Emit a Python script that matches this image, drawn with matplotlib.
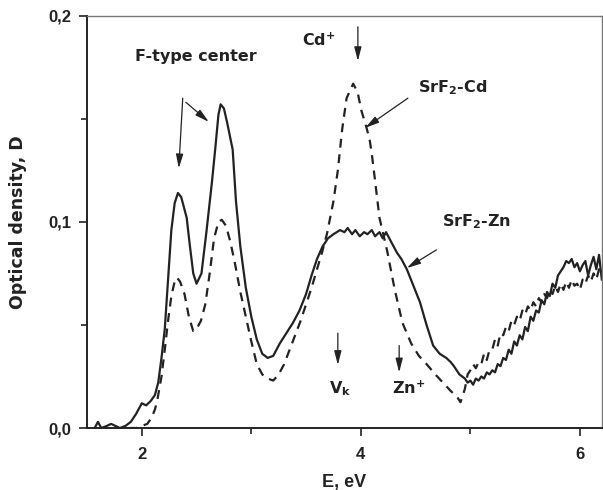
import matplotlib
matplotlib.use("Agg")
import matplotlib.pyplot as plt
from matplotlib.ticker import MultipleLocator, FuncFormatter

# SrF2-Zn (solid)
e_zn = [1.57, 1.60, 1.63, 1.68, 1.72, 1.76, 1.80, 1.85, 1.90, 1.95, 2.00, 2.04, 2.08,
        2.12, 2.15, 2.18, 2.21, 2.24, 2.27, 2.30, 2.33, 2.36, 2.41, 2.44, 2.47, 2.50,
        2.545, 2.59, 2.64, 2.67, 2.70, 2.72, 2.75, 2.78, 2.83, 2.86, 2.90, 2.95, 3.00,
        3.05, 3.10, 3.15, 3.20, 3.26, 3.32, 3.38, 3.44, 3.50, 3.55, 3.60, 3.65, 3.70,
        3.75, 3.81, 3.85, 3.88, 3.92, 3.95, 3.99, 4.03, 4.06, 4.10, 4.13, 4.17, 4.20,
        4.23, 4.27, 4.30, 4.33, 4.37, 4.42, 4.48, 4.54, 4.60, 4.66, 4.72, 4.78, 4.82,
        4.85, 4.875, 4.90, 4.925, 4.95, 4.975, 5.00, 5.025, 5.05, 5.075, 5.10, 5.125,
        5.15, 5.175, 5.20, 5.225, 5.25, 5.275, 5.30, 5.325, 5.35, 5.375, 5.40, 5.425,
        5.45, 5.475, 5.50, 5.525, 5.55, 5.575, 5.60, 5.625, 5.65, 5.675, 5.70, 5.725,
        5.75, 5.775, 5.80, 5.825, 5.85, 5.875, 5.90, 5.925, 5.95, 5.975, 6.00, 6.025,
        6.05, 6.075, 6.10, 6.125, 6.15, 6.175, 6.20]
d_zn = [0.000, 0.003, 0.000, 0.001, 0.002, 0.001, 0.000, 0.001, 0.003, 0.007, 0.012, 0.011, 0.013,
        0.016, 0.022, 0.034, 0.048, 0.072, 0.096, 0.109, 0.114, 0.112, 0.102, 0.088, 0.075, 0.070,
        0.075, 0.095, 0.119, 0.135, 0.152, 0.157, 0.155, 0.148, 0.135, 0.110, 0.088, 0.068, 0.054,
        0.043, 0.036, 0.034, 0.035, 0.041, 0.046, 0.051, 0.057, 0.065, 0.074, 0.082, 0.088, 0.092,
        0.094, 0.096, 0.095, 0.097, 0.094, 0.096, 0.093, 0.095, 0.094, 0.096, 0.093, 0.095, 0.092,
        0.095, 0.091, 0.088, 0.085, 0.082, 0.077, 0.069, 0.061, 0.050, 0.040, 0.036, 0.034, 0.032,
        0.030, 0.028, 0.026, 0.025, 0.024, 0.022, 0.023, 0.021, 0.024, 0.023, 0.025, 0.024,
        0.027, 0.026, 0.028, 0.027, 0.031, 0.030, 0.034, 0.033, 0.038, 0.036, 0.042, 0.040,
        0.045, 0.043, 0.049, 0.047, 0.054, 0.052, 0.057, 0.056, 0.062, 0.060, 0.066, 0.064,
        0.070, 0.068, 0.074, 0.076, 0.078, 0.081, 0.080, 0.082, 0.078, 0.080, 0.076, 0.079,
        0.081, 0.074, 0.079, 0.083, 0.077, 0.084, 0.072]

# SrF2-Cd (dashed)
e_cd = [1.88, 1.95, 2.00, 2.05, 2.09, 2.12, 2.14, 2.18, 2.21, 2.24, 2.27, 2.30, 2.32,
        2.35, 2.39, 2.43, 2.47, 2.50, 2.54, 2.58, 2.62, 2.66, 2.70, 2.73, 2.77, 2.81,
        2.85, 2.90, 2.95, 3.00, 3.05, 3.10, 3.15, 3.20, 3.25, 3.30, 3.35, 3.40, 3.45,
        3.50, 3.55, 3.60, 3.65, 3.69, 3.75, 3.79, 3.83, 3.87, 3.93, 3.97, 4.005, 4.05,
        4.08, 4.10, 4.13, 4.17, 4.24, 4.31, 4.38, 4.46, 4.53, 4.60, 4.68, 4.75, 4.82,
        4.88, 4.91, 4.95, 4.975, 5.00, 5.025, 5.05, 5.075, 5.10, 5.125, 5.15, 5.175,
        5.20, 5.225, 5.25, 5.275, 5.30, 5.325, 5.35, 5.375, 5.40, 5.425, 5.45, 5.475,
        5.50, 5.525, 5.55, 5.575, 5.60, 5.625, 5.65, 5.675, 5.70, 5.725, 5.75, 5.775,
        5.80, 5.825, 5.85, 5.875, 5.90, 5.925, 5.95, 5.975, 6.00, 6.025, 6.05, 6.075,
        6.10, 6.125, 6.15, 6.175, 6.20]
d_cd = [0.000, 0.000, 0.001, 0.002, 0.005, 0.009, 0.013, 0.025, 0.038, 0.052, 0.064, 0.071, 0.073,
        0.071, 0.065, 0.054, 0.047, 0.048, 0.052, 0.060, 0.075, 0.092, 0.100, 0.101, 0.098, 0.090,
        0.080, 0.066, 0.054, 0.042, 0.031, 0.026, 0.024, 0.023, 0.026, 0.031, 0.038, 0.045, 0.052,
        0.060, 0.068, 0.077, 0.086, 0.094, 0.110, 0.125, 0.145, 0.160, 0.167, 0.163, 0.154, 0.146,
        0.140, 0.133, 0.120, 0.102, 0.086, 0.067, 0.051, 0.041, 0.035, 0.031, 0.026, 0.022, 0.018,
        0.015, 0.0125, 0.019, 0.026, 0.028, 0.031, 0.029, 0.032, 0.031, 0.036, 0.033, 0.038,
        0.038, 0.043, 0.040, 0.046, 0.045, 0.049, 0.047, 0.052, 0.050, 0.054, 0.052, 0.057,
        0.055, 0.059, 0.057, 0.061, 0.059, 0.063, 0.061, 0.065, 0.063, 0.067, 0.065, 0.069,
        0.066, 0.070, 0.067, 0.071, 0.068, 0.072, 0.069, 0.070, 0.067, 0.072, 0.070, 0.074,
        0.071, 0.075, 0.072, 0.077, 0.075]

ink = '#222222'
fig = plt.figure(figsize=(6.03, 4.90), dpi=100)
ax = fig.add_axes([0.1443, 0.1265, 0.8537, 0.8415])

ax.plot(e_zn, d_zn, color=ink, lw=1.6, solid_joinstyle='round')
ax.plot(e_cd, d_cd, color=ink, lw=1.6, dashes=(4, 3))

ax.set_xlim(1.5, 6.2)
ax.set_ylim(0.0, 0.2)
ax.xaxis.set_major_locator(MultipleLocator(2))
ax.xaxis.set_minor_locator(MultipleLocator(1))
ax.yaxis.set_major_locator(MultipleLocator(0.1))
ax.yaxis.set_minor_locator(MultipleLocator(0.05))
ax.yaxis.set_major_formatter(FuncFormatter(lambda v, p: f"{v:.1f}".replace('.', ',')))
ax.xaxis.set_major_formatter(FuncFormatter(lambda v, p: f"{v:.0f}"))
ax.tick_params(which='both', direction='out', color=ink, width=1.2)
ax.tick_params(which='major', length=6, labelsize=12, labelcolor=ink, pad=5)
ax.tick_params(axis='x', which='major', pad=8)
ax.tick_params(which='minor', length=4)
for lab in ax.get_xticklabels() + ax.get_yticklabels():
    lab.set_fontfamily('Liberation Sans')
    lab.set_fontweight('bold')

for s in ['left', 'bottom']:
    ax.spines[s].set_color(ink)
    ax.spines[s].set_linewidth(1.4)
for s in ['top', 'right']:
    ax.spines[s].set_color('#777777')
    ax.spines[s].set_linewidth(1.0)

ax.set_xlabel('E, eV', fontfamily='Liberation Sans', fontweight='bold', fontsize=13, color=ink, labelpad=8)
ax.set_ylabel('Optical density, D', fontfamily='DejaVu Sans', fontweight='bold', fontsize=12.5, color=ink, labelpad=16)

plt.rcParams['mathtext.fontset'] = 'custom'
plt.rcParams['mathtext.rm'] = 'DejaVu Sans:bold'
plt.rcParams['mathtext.it'] = 'DejaVu Sans:bold'
plt.rcParams['mathtext.default'] = 'rm'

tkw = dict(fontfamily='DejaVu Sans', fontweight='bold', fontsize=11.5, color=ink)
ax.text(2.49, 0.180, 'F-type center', ha='center', va='center', **tkw)
ax.text(3.62, 0.188, 'Cd$^{+}$', ha='center', va='center', **tkw)
ax.text(4.52, 0.165, 'SrF$_{2}$-Cd', ha='left', va='center', **tkw)
ax.text(4.74, 0.100, 'SrF$_{2}$-Zn', ha='left', va='center', **tkw)
ax.text(3.81, 0.019, 'V$_{k}$', ha='center', va='center', **tkw)
ax.text(4.28, 0.019, 'Zn$^{+}$', ha='left', va='center', **tkw)

arrows = [((2.374, 0.160), (2.338, 0.126)),
          ((2.402, 0.158), (2.612, 0.1485)),
          ((3.973, 0.1946), (3.973, 0.178)),
          ((4.43, 0.160), (4.04, 0.1456)),
          ((4.69, 0.0864), (4.42, 0.0776)),
          ((3.79, 0.046), (3.79, 0.0306)),
          ((4.35, 0.040), (4.35, 0.027))]
for start, tip in arrows:
    ax.annotate('', xy=tip, xytext=start,
                arrowprops=dict(arrowstyle='-|>,head_length=0.7,head_width=0.18',
                                color=ink, lw=0.9, mutation_scale=12,
                                shrinkA=0, shrinkB=0))

fig.savefig('out.png', dpi=100)
